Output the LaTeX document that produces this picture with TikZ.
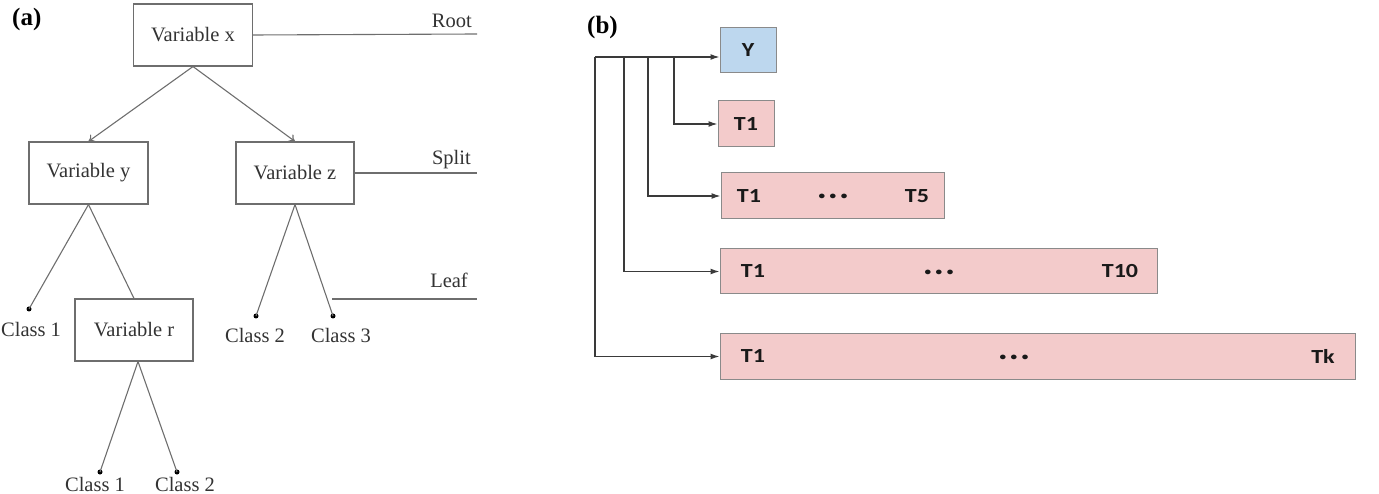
\documentclass[tikz,border=0pt]{standalone}
\usepackage{fontspec}
\setmainfont{Liberation Serif}
\newfontfamily\calb[FakeStretch=1.2]{Carlito}
\usetikzlibrary{arrows.meta}
\definecolor{treegray}{HTML}{6E6E6E}
\definecolor{txtgray}{HTML}{333333}
\definecolor{yblue}{HTML}{BDD7EE}
\definecolor{tpink}{HTML}{F3CBCB}
\definecolor{bborder}{HTML}{8A8A8A}
\definecolor{blink}{HTML}{3A3A3A}
\newcommand{\tdots}{{\fontsize{11}{12}\selectfont\textbullet\hspace{4.5pt}\textbullet\hspace{4.5pt}\textbullet}}
\tikzset{
  treebox/.style={draw=treegray, line width=1.1pt, minimum width=119pt, minimum height=62pt, inner sep=0pt, text=txtgray, font=\fontsize{20.5}{24}\selectfont},
  treeline/.style={draw=treegray, line width=1.1pt},
  treearr/.style={treeline, -{To[length=6pt,width=9pt]}},
  leafdot/.style={circle, fill=black, inner sep=0pt, minimum size=5pt},
  treelbl/.style={text=txtgray, font=\fontsize{20.5}{24}\selectfont, inner sep=0pt},
  panel/.style={font=\fontsize{25}{28}\selectfont\bfseries, inner sep=0pt},
  tbox/.style={draw=bborder, line width=1pt, fill=tpink, inner sep=0pt, minimum height=45pt, font=\calb\fontsize{20}{24}\selectfont\bfseries, text=black!90},
  ybox/.style={tbox, fill=yblue},
  tlbl/.style={font=\calb\fontsize{20}{24}\selectfont\bfseries, text=black!90, inner sep=0pt},
  barr/.style={draw=blink, line width=1.3pt, -{Latex[length=9pt,width=6pt]}},
}
\begin{document}
\begin{tikzpicture}[x=1pt,y=-1pt]
\useasboundingbox (0,0) rectangle (1379,494);
% ---------------- (a) ----------------
\node[panel, anchor=base west] (pa) at (12,26) {(a)};
\node[treebox] (vx) at (193,35) {Variable x};
\node[treebox] (vy) at (88.5,173) {Variable y};
\node[treebox, minimum width=118pt] (vz) at (295,173) {Variable z};
\node[treebox, minimum width=118pt] (vr) at (134,330) {Variable r};
\node[leafdot] (d1) at (29,309) {};
\node[leafdot] (d2) at (256,316) {};
\node[leafdot] (d3) at (333,316) {};
\node[leafdot] (d4) at (100,472) {};
\node[leafdot] (d5) at (177,472) {};
\node[treelbl, anchor=base west] (l1) at (1,337) {Class 1};
\node[treelbl, anchor=base] (l2) at (255,343) {Class 2};
\node[treelbl, anchor=base] (l3) at (341,343) {Class 3};
\node[treelbl, anchor=base] (l4) at (95,491) {Class 1};
\node[treelbl, anchor=base] (l5) at (185,491) {Class 2};
\draw[treearr] (vx.south) -- (vy.north);
\draw[treearr] (vx.south) -- (vz.north);
\draw[treeline] (vy.south) -- (d1.center);
\draw[treeline] (vy.south) -- (vr.north);
\draw[treeline] (vz.south) -- (d2.center);
\draw[treeline] (vz.south) -- (d3.center);
\draw[treeline] ([xshift=4pt]vr.south) -- (d4.center);
\draw[treeline] ([xshift=4pt]vr.south) -- (d5.center);
% level lines
\coordinate (rootend) at (477,34);
\coordinate (splitend) at (477,173);
\coordinate (leafstart) at (332,299);
\coordinate (leafend) at (477,299);
\draw[treeline] (vx.east) -- (rootend);
\draw[treeline] (vz.east) -- (splitend);
\draw[treeline] (leafstart) -- (leafend);
\node[treelbl, anchor=base east] (root) at (472,28) {Root};
\node[treelbl, anchor=base east] (split) at (471,165) {Split};
\node[treelbl, anchor=base east] (leaf) at (468,288) {Leaf};
% ---------------- (b) ----------------
\node[panel, anchor=base west] (pb) at (587,34) {(b)};
\node[ybox, minimum width=56pt] (yb) at (748,50.5) {Y};
\node[tbox, minimum width=56pt, minimum height=46pt] (t1b) at (746,124) {T1};
\node[tbox, minimum width=223pt, minimum height=46pt] (t5b) at (832.5,196) {};
\node[tbox, minimum width=437pt] (t10b) at (938.5,271.5) {};
\node[tbox, minimum width=635pt] (tkb) at (1037.5,356.5) {};
% labels inside
\node[tlbl] (t5a) at (749,196) {T1};
\node[tlbl] (t5d) at (833,197) {\tdots};
\node[tlbl] (t5c) at (917,196) {T5};
\node[tlbl] (t10a) at (753,271.5) {T1};
\node[tlbl] (t10d) at (939,272.5) {\tdots};
\node[tlbl] (t10c) at (1120,271.5) {T10};
\node[tlbl] (tka) at (753,356.5) {T1};
\node[tlbl] (tkd) at (1014,357.5) {\tdots};
\node[tlbl] (tkc) at (1323,356.5) {Tk};
% connectors
\coordinate (b0) at (595,57);
\coordinate (c1) at (674,57);
\coordinate (c2) at (648,57);
\coordinate (c3) at (624,57);
\draw[barr] (b0) -- (b0 -| yb.west);
\draw[barr] (c1) |- (t1b.west);
\draw[barr] (c2) |- (t5b.west);
\draw[barr] (c3) |- (t10b.west);
\draw[barr] (b0) |- (tkb.west);
\end{tikzpicture}
\end{document}
